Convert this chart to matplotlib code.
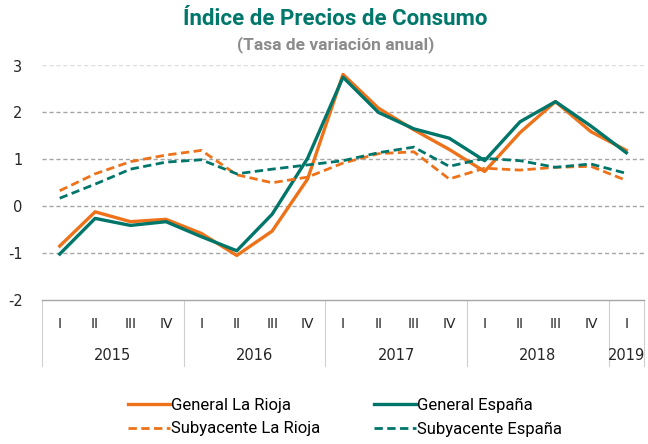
import numpy as np
import matplotlib
matplotlib.use('Agg')
import matplotlib.pyplot as plt
from matplotlib.transforms import blended_transform_factory

# Data (tasa de variación anual, %)
quarters = ['I', 'II', 'III', 'IV'] * 4 + ['I']
years = ['2015', '2016', '2017', '2018', '2019']
year_len = [4, 4, 4, 4, 1]

general_rioja = [-0.85, -0.12, -0.33, -0.28, -0.58, -1.05, -0.53, 0.58,
                 2.81, 2.09, 1.63, 1.21, 0.74, 1.57, 2.23, 1.59, 1.19]
general_espana = [-1.02, -0.26, -0.41, -0.33, -0.65, -0.95, -0.17, 1.02,
                  2.75, 2.00, 1.65, 1.45, 0.97, 1.80, 2.23, 1.71, 1.14]
suby_rioja = [0.33, 0.69, 0.95, 1.09, 1.19, 0.67, 0.50, 0.62,
              0.92, 1.12, 1.16, 0.58, 0.81, 0.77, 0.83, 0.85, 0.55]
suby_espana = [0.17, 0.47, 0.79, 0.94, 0.99, 0.69, 0.79, 0.88,
               0.97, 1.14, 1.26, 0.85, 1.02, 0.97, 0.83, 0.90, 0.70]

orange = '#EE7219'
teal = '#00756A'
narrow = ['Roboto', 'DejaVu Sans']
plt.rcParams['font.family'] = ['DejaVu Sans']

fig = plt.figure(figsize=(6.48, 4.44), dpi=100)
ax = fig.add_axes([42 / 648, 1 - 300 / 444, 602 / 648, 234.5 / 444])

x = np.arange(len(quarters))
l1, = ax.plot(x, general_rioja, color=orange, lw=2.4, label='General La Rioja')
l2, = ax.plot(x, general_espana, color=teal, lw=2.4, label='General España')
l3, = ax.plot(x, suby_rioja, color=orange, lw=2.0, ls=(0, (3, 1.6)), label='Subyacente La Rioja')
l4, = ax.plot(x, suby_espana, color=teal, lw=2.0, ls=(0, (3, 1.6)), label='Subyacente España')

ax.set_xlim(-0.5, len(quarters) - 0.5)
ax.set_ylim(-2, 3)
ax.set_yticks([-2, -1, 0, 1, 2, 3])
ax.set_yticklabels(['-2', '-1', '0', '1', '2', '3'])
for v in [-1, 0, 1, 2]:
    ax.axhline(v, color='#A6A6A6', lw=1.0, ls=(0, (3, 2)), zorder=0)
ax.axhline(3, color='#DDDDDD', lw=1.0, ls=(0, (3, 2)), zorder=0)

for s in ['left', 'right', 'top']:
    ax.spines[s].set_visible(False)
ax.spines['bottom'].set_color('#A6A6A6')
ax.spines['bottom'].set_linewidth(1.0)

ax.tick_params(axis='y', length=0, pad=14, labelsize=10.5, labelcolor='#262626')
ax.set_xticks(x)
ax.set_xticklabels(quarters)
ax.tick_params(axis='x', length=0, pad=12, labelsize=10, labelcolor='#262626')

# year labels and separators
trans = blended_transform_factory(ax.transData, ax.transAxes)
start = -0.5
for yr, n in zip(years, year_len):
    ax.plot([start, start], [0, -0.28], transform=trans, color='#D0D0D0',
            lw=0.8, clip_on=False)
    ax.text(start + n / 2, -0.238, yr, transform=trans, ha='center', va='center',
            fontsize=10.5, color='#262626')
    start += n
ax.plot([start, start], [0, -0.28], transform=trans, color='#D0D0D0',
        lw=0.8, clip_on=False)

fig.text(0.517, 1 - 19 / 444, 'Índice de Precios de Consumo', ha='center', va='center',
         fontsize=16, fontweight='bold', color='#00776B', family=narrow)
fig.text(0.518, 1 - 45 / 444, '(Tasa de variación anual)', ha='center', va='center',
         fontsize=12.5, fontweight='bold', color='#8C8C8C', family=narrow)

fig.legend([l1, l3, l2, l4], [l.get_label() for l in [l1, l3, l2, l4]],
           loc='upper left', bbox_to_anchor=(128 / 648, 1 - 398 / 444), ncol=2,
           frameon=False, prop={'family': narrow, 'size': 12},
           handlelength=2.5, handletextpad=0.1, columnspacing=3.2,
           labelspacing=0.5, borderpad=0, borderaxespad=0)

fig.savefig('out.png', dpi=100)
